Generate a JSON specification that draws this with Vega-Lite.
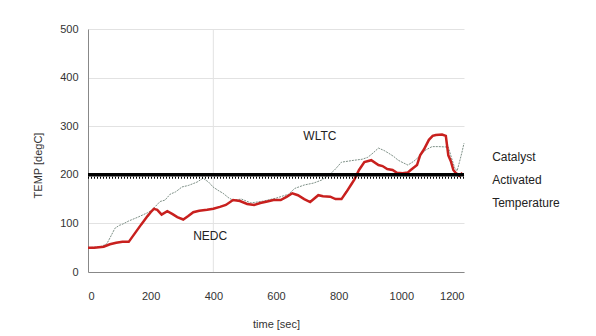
{
  "$schema": "https://vega.github.io/schema/vega-lite/v6.json",
  "width": 376,
  "height": 243,
  "autosize": "none",
  "padding": {"left": 88, "top": 29, "right": 132, "bottom": 64},
  "background": "white",
  "config": {
    "view": {"stroke": null},
    "font": "Liberation Sans",
    "axis": {"labelFont": "Liberation Sans", "titleFont": "Liberation Sans", "labelColor": "#333", "titleColor": "#333", "titleFontWeight": "normal", "labelFontSize": 11, "titleFontSize": 11, "domainColor": "#888", "gridColor": "#e2e2e2", "ticks": false}
  },
  "datasets": {
    "temps": [
      {"t": 0, "temp": 50, "cycle": "NEDC"}, {"t": 20, "temp": 50, "cycle": "NEDC"}, {"t": 50, "temp": 52, "cycle": "NEDC"}, {"t": 70, "temp": 57, "cycle": "NEDC"}, {"t": 90, "temp": 60, "cycle": "NEDC"}, {"t": 110, "temp": 62, "cycle": "NEDC"}, {"t": 130, "temp": 62, "cycle": "NEDC"}, {"t": 150, "temp": 80, "cycle": "NEDC"}, {"t": 170, "temp": 98, "cycle": "NEDC"}, {"t": 190, "temp": 115, "cycle": "NEDC"}, {"t": 200, "temp": 123, "cycle": "NEDC"}, {"t": 210, "temp": 130, "cycle": "NEDC"}, {"t": 221, "temp": 128, "cycle": "NEDC"}, {"t": 235, "temp": 118, "cycle": "NEDC"}, {"t": 253, "temp": 125, "cycle": "NEDC"}, {"t": 270, "temp": 119, "cycle": "NEDC"}, {"t": 285, "temp": 113, "cycle": "NEDC"}, {"t": 304, "temp": 108, "cycle": "NEDC"}, {"t": 320, "temp": 115, "cycle": "NEDC"}, {"t": 336, "temp": 123, "cycle": "NEDC"}, {"t": 355, "temp": 126, "cycle": "NEDC"}, {"t": 380, "temp": 128, "cycle": "NEDC"}, {"t": 400, "temp": 130, "cycle": "NEDC"}, {"t": 421, "temp": 134, "cycle": "NEDC"}, {"t": 440, "temp": 138, "cycle": "NEDC"}, {"t": 463, "temp": 148, "cycle": "NEDC"}, {"t": 485, "temp": 146, "cycle": "NEDC"}, {"t": 508, "temp": 140, "cycle": "NEDC"}, {"t": 530, "temp": 138, "cycle": "NEDC"}, {"t": 550, "temp": 142, "cycle": "NEDC"}, {"t": 572, "temp": 145, "cycle": "NEDC"}, {"t": 592, "temp": 148, "cycle": "NEDC"}, {"t": 615, "temp": 148, "cycle": "NEDC"}, {"t": 635, "temp": 155, "cycle": "NEDC"}, {"t": 652, "temp": 162, "cycle": "NEDC"}, {"t": 670, "temp": 158, "cycle": "NEDC"}, {"t": 690, "temp": 150, "cycle": "NEDC"}, {"t": 709, "temp": 144, "cycle": "NEDC"}, {"t": 735, "temp": 158, "cycle": "NEDC"}, {"t": 750, "temp": 156, "cycle": "NEDC"}, {"t": 773, "temp": 155, "cycle": "NEDC"}, {"t": 790, "temp": 150, "cycle": "NEDC"}, {"t": 809, "temp": 150, "cycle": "NEDC"}, {"t": 825, "temp": 165, "cycle": "NEDC"}, {"t": 840, "temp": 180, "cycle": "NEDC"}, {"t": 850, "temp": 190, "cycle": "NEDC"}, {"t": 865, "temp": 210, "cycle": "NEDC"}, {"t": 882, "temp": 226, "cycle": "NEDC"}, {"t": 904, "temp": 230, "cycle": "NEDC"}, {"t": 927, "temp": 220, "cycle": "NEDC"}, {"t": 940, "temp": 218, "cycle": "NEDC"}, {"t": 955, "temp": 212, "cycle": "NEDC"}, {"t": 972, "temp": 210, "cycle": "NEDC"}, {"t": 986, "temp": 204, "cycle": "NEDC"}, {"t": 1004, "temp": 203, "cycle": "NEDC"}, {"t": 1021, "temp": 205, "cycle": "NEDC"}, {"t": 1030, "temp": 210, "cycle": "NEDC"}, {"t": 1050, "temp": 220, "cycle": "NEDC"}, {"t": 1060, "temp": 240, "cycle": "NEDC"}, {"t": 1072, "temp": 252, "cycle": "NEDC"}, {"t": 1088, "temp": 272, "cycle": "NEDC"}, {"t": 1100, "temp": 280, "cycle": "NEDC"}, {"t": 1110, "temp": 282, "cycle": "NEDC"}, {"t": 1130, "temp": 283, "cycle": "NEDC"}, {"t": 1142, "temp": 280, "cycle": "NEDC"}, {"t": 1150, "temp": 240, "cycle": "NEDC"}, {"t": 1158, "temp": 228, "cycle": "NEDC"}, {"t": 1166, "temp": 210, "cycle": "NEDC"}, {"t": 1172, "temp": 205, "cycle": "NEDC"}, {"t": 1185, "temp": 198, "cycle": "NEDC"}, {"t": 1195, "temp": 204, "cycle": "NEDC"},
      {"t": 0, "temp": 50, "cycle": "WLTC"}, {"t": 40, "temp": 52, "cycle": "WLTC"}, {"t": 60, "temp": 58, "cycle": "WLTC"}, {"t": 70, "temp": 70, "cycle": "WLTC"}, {"t": 86, "temp": 90, "cycle": "WLTC"}, {"t": 100, "temp": 96, "cycle": "WLTC"}, {"t": 109, "temp": 98, "cycle": "WLTC"}, {"t": 130, "temp": 105, "cycle": "WLTC"}, {"t": 160, "temp": 113, "cycle": "WLTC"}, {"t": 190, "temp": 122, "cycle": "WLTC"}, {"t": 205, "temp": 128, "cycle": "WLTC"}, {"t": 230, "temp": 145, "cycle": "WLTC"}, {"t": 246, "temp": 148, "cycle": "WLTC"}, {"t": 262, "temp": 160, "cycle": "WLTC"}, {"t": 280, "temp": 165, "cycle": "WLTC"}, {"t": 300, "temp": 175, "cycle": "WLTC"}, {"t": 320, "temp": 178, "cycle": "WLTC"}, {"t": 348, "temp": 185, "cycle": "WLTC"}, {"t": 367, "temp": 193, "cycle": "WLTC"}, {"t": 385, "temp": 185, "cycle": "WLTC"}, {"t": 399, "temp": 175, "cycle": "WLTC"}, {"t": 415, "temp": 168, "cycle": "WLTC"}, {"t": 431, "temp": 162, "cycle": "WLTC"}, {"t": 450, "temp": 152, "cycle": "WLTC"}, {"t": 463, "temp": 148, "cycle": "WLTC"}, {"t": 490, "temp": 150, "cycle": "WLTC"}, {"t": 520, "temp": 142, "cycle": "WLTC"}, {"t": 560, "temp": 146, "cycle": "WLTC"}, {"t": 600, "temp": 152, "cycle": "WLTC"}, {"t": 640, "temp": 160, "cycle": "WLTC"}, {"t": 660, "temp": 172, "cycle": "WLTC"}, {"t": 690, "temp": 179, "cycle": "WLTC"}, {"t": 720, "temp": 183, "cycle": "WLTC"}, {"t": 745, "temp": 189, "cycle": "WLTC"}, {"t": 770, "temp": 200, "cycle": "WLTC"}, {"t": 787, "temp": 210, "cycle": "WLTC"}, {"t": 809, "temp": 226, "cycle": "WLTC"}, {"t": 830, "temp": 228, "cycle": "WLTC"}, {"t": 850, "temp": 230, "cycle": "WLTC"}, {"t": 875, "temp": 232, "cycle": "WLTC"}, {"t": 893, "temp": 236, "cycle": "WLTC"}, {"t": 910, "temp": 245, "cycle": "WLTC"}, {"t": 927, "temp": 255, "cycle": "WLTC"}, {"t": 945, "temp": 250, "cycle": "WLTC"}, {"t": 958, "temp": 245, "cycle": "WLTC"}, {"t": 975, "temp": 238, "cycle": "WLTC"}, {"t": 990, "temp": 230, "cycle": "WLTC"}, {"t": 1005, "temp": 225, "cycle": "WLTC"}, {"t": 1021, "temp": 220, "cycle": "WLTC"}, {"t": 1040, "temp": 228, "cycle": "WLTC"}, {"t": 1056, "temp": 237, "cycle": "WLTC"}, {"t": 1075, "temp": 250, "cycle": "WLTC"}, {"t": 1098, "temp": 258, "cycle": "WLTC"}, {"t": 1120, "temp": 258, "cycle": "WLTC"}, {"t": 1150, "temp": 257, "cycle": "WLTC"}, {"t": 1160, "temp": 235, "cycle": "WLTC"}, {"t": 1170, "temp": 215, "cycle": "WLTC"}, {"t": 1178, "temp": 208, "cycle": "WLTC"}, {"t": 1185, "temp": 225, "cycle": "WLTC"}, {"t": 1193, "temp": 245, "cycle": "WLTC"}, {"t": 1200, "temp": 265, "cycle": "WLTC"}
    ],
    "labels": [
      {"t": 740, "temp": 280, "text": "WLTC"},
      {"t": 390, "temp": 74, "text": "NEDC"}
    ]
  },
  "layer": [
    {
      "data": {"values": [{"t": 400}]},
      "mark": {"type": "rule", "color": "#e2e2e2", "strokeWidth": 1},
      "encoding": {"x": {"field": "t", "type": "quantitative"}}
    },
    {
      "data": {"name": "temps"},
      "transform": [{"filter": "datum.cycle === 'WLTC'"}],
      "mark": {"type": "line", "color": "#7d8f86", "strokeWidth": 1, "strokeDash": [2, 1]},
      "encoding": {
        "x": {"field": "t", "type": "quantitative", "scale": {"domain": [0, 1200]}, "axis": {"title": "time [sec]", "format": "d", "values": [0, 200, 400, 600, 800, 1000, 1200], "grid": false, "labelPadding": 18, "titlePadding": 17}},
        "y": {"field": "temp", "type": "quantitative", "scale": {"domain": [0, 500]}, "axis": {"title": "TEMP [degC]", "values": [0, 100, 200, 300, 400, 500], "grid": true, "labelPadding": 10, "titlePadding": 16, "titleY": 136}}
      }
    },
    {
      "data": {"name": "temps"},
      "transform": [{"filter": "datum.cycle === 'NEDC'"}],
      "mark": {"type": "line", "color": "#c8201e", "strokeWidth": 2.5},
      "encoding": {
        "x": {"field": "t", "type": "quantitative"},
        "y": {"field": "temp", "type": "quantitative"}
      }
    },
    {
      "data": {"values": [{"temp": 200}]},
      "mark": {"type": "rule", "color": "#000", "strokeWidth": 3.5},
      "encoding": {"y": {"field": "temp", "type": "quantitative"}}
    },
    {
      "data": {"values": [{"temp": 200}]},
      "mark": {"type": "rule", "color": "#000", "strokeWidth": 2, "strokeDash": [1, 2], "yOffset": 3},
      "encoding": {"y": {"field": "temp", "type": "quantitative"}}
    },
    {
      "data": {"name": "labels"},
      "mark": {"type": "text", "fontSize": 12, "color": "#222", "align": "center", "baseline": "middle"},
      "encoding": {
        "x": {"field": "t", "type": "quantitative"},
        "y": {"field": "temp", "type": "quantitative"},
        "text": {"field": "text"}
      }
    },
    {
      "data": {"values": [{"t": 1290, "temp": 237, "text": ["Catalyst", "Activated", "Temperature"]}]},
      "mark": {"type": "text", "fontSize": 12, "color": "#222", "align": "left", "baseline": "middle", "lineHeight": 23, "clip": false},
      "encoding": {
        "x": {"field": "t", "type": "quantitative"},
        "y": {"field": "temp", "type": "quantitative"},
        "text": {"field": "text"}
      }
    }
  ]
}
